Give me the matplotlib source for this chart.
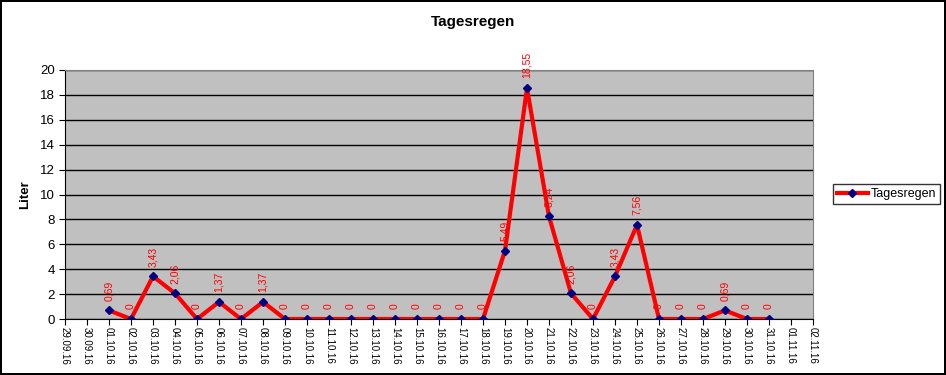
import matplotlib
matplotlib.use("Agg")
import matplotlib.pyplot as plt

# tick labels along the x axis (one per day)
DATES = [
    "29.09.16", "30.09.16",
    "01.10.16", "02.10.16", "03.10.16", "04.10.16", "05.10.16", "06.10.16",
    "07.10.16", "08.10.16", "09.10.16", "10.10.16", "11.10.16", "12.10.16",
    "13.10.16", "14.10.16", "15.10.16", "16.10.16", "17.10.16", "18.10.16",
    "19.10.16", "20.10.16", "21.10.16", "22.10.16", "23.10.16", "24.10.16",
    "25.10.16", "26.10.16", "27.10.16", "28.10.16", "29.10.16", "30.10.16",
    "31.10.16", "01.11.16", "02.11.16",
]
# rain for 01.10.16 .. 31.10.16
RAIN = [
    0.69, 0, 3.43, 2.06, 0, 1.37, 0, 1.37, 0, 0,
    0, 0, 0, 0, 0, 0, 0, 0, 5.49, 18.55,
    8.24, 2.06, 0, 3.43, 7.56, 0, 0, 0, 0.69, 0,
    0,
]
FIRST_DAY = DATES.index("01.10.16")
Y_TICKS = list(range(0, 21, 2))

plt.rcParams["font.family"] = ["Liberation Sans", "DejaVu Sans"]

fig = plt.figure(figsize=(9.46, 3.75), dpi=100)
fig.patch.set_facecolor("white")
fig.patch.set_edgecolor("black")
fig.patch.set_linewidth(1.5)

ax = fig.add_axes([65 / 946, 1 - 319 / 375, (813 - 65) / 946, (319 - 70) / 375])
ax.set_facecolor("#C0C0C0")
for side in ("top", "right"):
    ax.spines[side].set_color("#808080")
ax.spines["left"].set_color("black")
ax.spines["bottom"].set_color("black")

xs = list(range(FIRST_DAY, FIRST_DAY + len(RAIN)))
ax.plot(xs, RAIN, color="#FF0000", linewidth=3, marker="D", markersize=4,
        markerfacecolor="#000080", markeredgecolor="#000080", label="Tagesregen",
        zorder=3)

# data labels, rotated like Excel does
for x, v in zip(xs, RAIN):
    txt = f"{v:.2f}".replace(".", ",") if v else "0"
    ax.annotate(txt, (x, v), xytext=(0, 7), textcoords="offset points",
                rotation=90, ha="center", va="bottom", color="red",
                fontsize=7.5, annotation_clip=False)

ax.set_xlim(0, len(DATES) - 1)
ax.set_xticks(range(len(DATES)))
ax.set_xticklabels(DATES, rotation=-90, fontsize=7)
ax.set_ylim(0, 20)
ax.set_yticks(Y_TICKS)
ax.tick_params(axis="y", labelsize=9.5, length=4, direction="out")
ax.tick_params(axis="x", length=4, direction="out", pad=2)
ax.yaxis.grid(True, color="black", linewidth=1)
ax.set_axisbelow(True)

ax.set_ylabel("Liter", fontsize=9.5, fontweight="bold", labelpad=6)
fig.text(473 / 946, 1 - 22 / 375, "Tagesregen", ha="center", va="center",
         fontsize=11, fontweight="bold")

leg = fig.legend(loc="center left", bbox_to_anchor=(833 / 946, 1 - 194 / 375),
                 fontsize=9, frameon=True, fancybox=False, edgecolor="black",
                 borderaxespad=0, handlelength=2.5, borderpad=0.3,
                 handletextpad=0.2)
leg.get_frame().set_linewidth(1)

fig.savefig("out.png", dpi=100)
